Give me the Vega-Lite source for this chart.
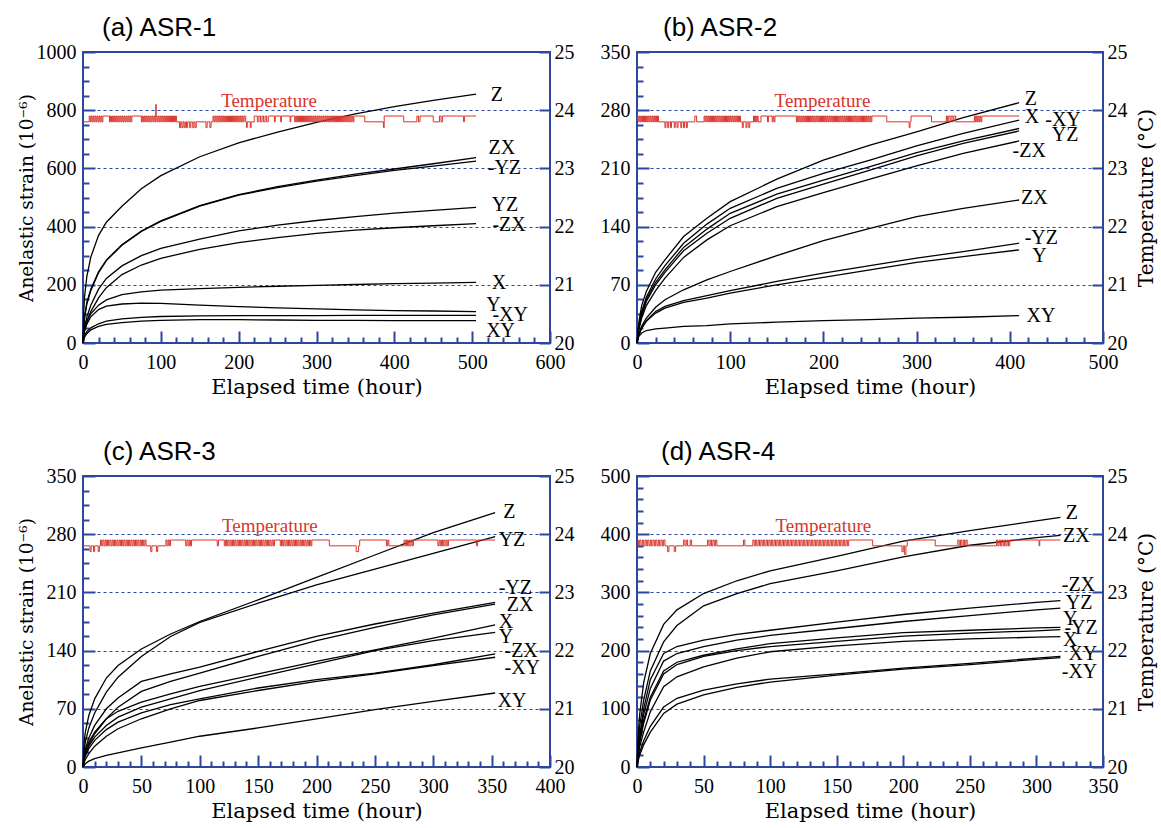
{
"$schema": "https://vega.github.io/schema/vega-lite/v6.json",
"background": "white",
"padding": {"left": 16, "top": 14, "right": 2, "bottom": 2},
"bounds": "flush",
"columns": 2,
"spacing": {"row": 133, "column": 87},
"config": {
  "view": {"stroke": "#2D469E", "strokeWidth": 2},
  "axis": {"domain": false, "grid": false, "tickColor": "#2D469E", "tickWidth": 2, "labelFont": "Liberation Serif", "labelFontSize": 20, "labelColor": "black", "titleFont": "DejaVu Serif", "titleFontSize": 20, "titleFontWeight": "normal", "titleColor": "black", "labelOverlap": false, "labelFlush": false, "labelBound": false}
},
"datasets": {
"curves": [
{"p":"a","s":"Z","t":0,"v":0},{"p":"a","s":"Z","t":1,"v":110},{"p":"a","s":"Z","t":2,"v":160},{"p":"a","s":"Z","t":5,"v":230},{"p":"a","s":"Z","t":10,"v":295},{"p":"a","s":"Z","t":20,"v":370},{"p":"a","s":"Z","t":30,"v":415},{"p":"a","s":"Z","t":50,"v":470},{"p":"a","s":"Z","t":75,"v":530},{"p":"a","s":"Z","t":100,"v":575},{"p":"a","s":"Z","t":150,"v":640},{"p":"a","s":"Z","t":200,"v":688},{"p":"a","s":"Z","t":250,"v":725},{"p":"a","s":"Z","t":300,"v":758},{"p":"a","s":"Z","t":350,"v":787},{"p":"a","s":"Z","t":400,"v":812},{"p":"a","s":"Z","t":450,"v":834},{"p":"a","s":"Z","t":505,"v":855},
{"p":"a","s":"ZX","t":0,"v":0},{"p":"a","s":"ZX","t":1,"v":60},{"p":"a","s":"ZX","t":2,"v":90},{"p":"a","s":"ZX","t":5,"v":140},{"p":"a","s":"ZX","t":10,"v":185},{"p":"a","s":"ZX","t":20,"v":245},{"p":"a","s":"ZX","t":30,"v":285},{"p":"a","s":"ZX","t":50,"v":338},{"p":"a","s":"ZX","t":75,"v":385},{"p":"a","s":"ZX","t":100,"v":420},{"p":"a","s":"ZX","t":150,"v":472},{"p":"a","s":"ZX","t":200,"v":510},{"p":"a","s":"ZX","t":250,"v":537},{"p":"a","s":"ZX","t":300,"v":560},{"p":"a","s":"ZX","t":350,"v":580},{"p":"a","s":"ZX","t":400,"v":598},{"p":"a","s":"ZX","t":450,"v":616},{"p":"a","s":"ZX","t":505,"v":637},
{"p":"a","s":"-YZ","t":0,"v":0},{"p":"a","s":"-YZ","t":1,"v":55},{"p":"a","s":"-YZ","t":2,"v":85},{"p":"a","s":"-YZ","t":5,"v":135},{"p":"a","s":"-YZ","t":10,"v":180},{"p":"a","s":"-YZ","t":20,"v":242},{"p":"a","s":"-YZ","t":30,"v":283},{"p":"a","s":"-YZ","t":50,"v":336},{"p":"a","s":"-YZ","t":75,"v":383},{"p":"a","s":"-YZ","t":100,"v":418},{"p":"a","s":"-YZ","t":150,"v":470},{"p":"a","s":"-YZ","t":200,"v":508},{"p":"a","s":"-YZ","t":250,"v":534},{"p":"a","s":"-YZ","t":300,"v":556},{"p":"a","s":"-YZ","t":350,"v":575},{"p":"a","s":"-YZ","t":400,"v":593},{"p":"a","s":"-YZ","t":450,"v":608},{"p":"a","s":"-YZ","t":505,"v":625},
{"p":"a","s":"YZ","t":0,"v":0},{"p":"a","s":"YZ","t":1,"v":35},{"p":"a","s":"YZ","t":2,"v":55},{"p":"a","s":"YZ","t":5,"v":90},{"p":"a","s":"YZ","t":10,"v":130},{"p":"a","s":"YZ","t":20,"v":185},{"p":"a","s":"YZ","t":30,"v":222},{"p":"a","s":"YZ","t":50,"v":265},{"p":"a","s":"YZ","t":75,"v":300},{"p":"a","s":"YZ","t":100,"v":325},{"p":"a","s":"YZ","t":150,"v":357},{"p":"a","s":"YZ","t":200,"v":385},{"p":"a","s":"YZ","t":250,"v":405},{"p":"a","s":"YZ","t":300,"v":421},{"p":"a","s":"YZ","t":350,"v":434},{"p":"a","s":"YZ","t":400,"v":446},{"p":"a","s":"YZ","t":450,"v":456},{"p":"a","s":"YZ","t":505,"v":466},
{"p":"a","s":"-ZX","t":0,"v":0},{"p":"a","s":"-ZX","t":1,"v":30},{"p":"a","s":"-ZX","t":2,"v":45},{"p":"a","s":"-ZX","t":5,"v":75},{"p":"a","s":"-ZX","t":10,"v":108},{"p":"a","s":"-ZX","t":20,"v":155},{"p":"a","s":"-ZX","t":30,"v":190},{"p":"a","s":"-ZX","t":50,"v":235},{"p":"a","s":"-ZX","t":75,"v":268},{"p":"a","s":"-ZX","t":100,"v":291},{"p":"a","s":"-ZX","t":150,"v":322},{"p":"a","s":"-ZX","t":200,"v":345},{"p":"a","s":"-ZX","t":250,"v":362},{"p":"a","s":"-ZX","t":300,"v":377},{"p":"a","s":"-ZX","t":350,"v":388},{"p":"a","s":"-ZX","t":400,"v":396},{"p":"a","s":"-ZX","t":450,"v":403},{"p":"a","s":"-ZX","t":505,"v":410},
{"p":"a","s":"X","t":0,"v":0},{"p":"a","s":"X","t":1,"v":30},{"p":"a","s":"X","t":2,"v":50},{"p":"a","s":"X","t":5,"v":75},{"p":"a","s":"X","t":10,"v":100},{"p":"a","s":"X","t":20,"v":130},{"p":"a","s":"X","t":30,"v":148},{"p":"a","s":"X","t":50,"v":166},{"p":"a","s":"X","t":75,"v":176},{"p":"a","s":"X","t":100,"v":182},{"p":"a","s":"X","t":150,"v":187},{"p":"a","s":"X","t":200,"v":191},{"p":"a","s":"X","t":250,"v":195},{"p":"a","s":"X","t":300,"v":198},{"p":"a","s":"X","t":350,"v":201},{"p":"a","s":"X","t":400,"v":204},{"p":"a","s":"X","t":450,"v":206},{"p":"a","s":"X","t":505,"v":208},
{"p":"a","s":"Y","t":0,"v":0},{"p":"a","s":"Y","t":1,"v":25},{"p":"a","s":"Y","t":2,"v":40},{"p":"a","s":"Y","t":5,"v":65},{"p":"a","s":"Y","t":10,"v":90},{"p":"a","s":"Y","t":20,"v":115},{"p":"a","s":"Y","t":30,"v":127},{"p":"a","s":"Y","t":50,"v":134},{"p":"a","s":"Y","t":75,"v":137},{"p":"a","s":"Y","t":100,"v":136},{"p":"a","s":"Y","t":150,"v":130},{"p":"a","s":"Y","t":200,"v":125},{"p":"a","s":"Y","t":250,"v":121},{"p":"a","s":"Y","t":300,"v":117},{"p":"a","s":"Y","t":350,"v":114},{"p":"a","s":"Y","t":400,"v":111},{"p":"a","s":"Y","t":450,"v":110},{"p":"a","s":"Y","t":505,"v":108},
{"p":"a","s":"-XY","t":0,"v":0},{"p":"a","s":"-XY","t":1,"v":15},{"p":"a","s":"-XY","t":2,"v":25},{"p":"a","s":"-XY","t":5,"v":40},{"p":"a","s":"-XY","t":10,"v":52},{"p":"a","s":"-XY","t":20,"v":66},{"p":"a","s":"-XY","t":30,"v":75},{"p":"a","s":"-XY","t":50,"v":83},{"p":"a","s":"-XY","t":75,"v":88},{"p":"a","s":"-XY","t":100,"v":91},{"p":"a","s":"-XY","t":150,"v":93},{"p":"a","s":"-XY","t":200,"v":94},{"p":"a","s":"-XY","t":250,"v":94},{"p":"a","s":"-XY","t":300,"v":94},{"p":"a","s":"-XY","t":350,"v":95},{"p":"a","s":"-XY","t":400,"v":95},{"p":"a","s":"-XY","t":450,"v":95},{"p":"a","s":"-XY","t":505,"v":95},
{"p":"a","s":"XY","t":0,"v":0},{"p":"a","s":"XY","t":1,"v":12},{"p":"a","s":"XY","t":2,"v":20},{"p":"a","s":"XY","t":5,"v":33},{"p":"a","s":"XY","t":10,"v":45},{"p":"a","s":"XY","t":20,"v":57},{"p":"a","s":"XY","t":30,"v":64},{"p":"a","s":"XY","t":50,"v":70},{"p":"a","s":"XY","t":75,"v":75},{"p":"a","s":"XY","t":100,"v":78},{"p":"a","s":"XY","t":150,"v":80},{"p":"a","s":"XY","t":200,"v":80},{"p":"a","s":"XY","t":250,"v":79},{"p":"a","s":"XY","t":300,"v":78},{"p":"a","s":"XY","t":350,"v":78},{"p":"a","s":"XY","t":400,"v":77},{"p":"a","s":"XY","t":450,"v":77},{"p":"a","s":"XY","t":505,"v":77},
{"p":"b","s":"Z","t":0,"v":0},{"p":"b","s":"Z","t":1,"v":15},{"p":"b","s":"Z","t":2,"v":25},{"p":"b","s":"Z","t":5,"v":45},{"p":"b","s":"Z","t":10,"v":62},{"p":"b","s":"Z","t":20,"v":85},{"p":"b","s":"Z","t":30,"v":100},{"p":"b","s":"Z","t":50,"v":128},{"p":"b","s":"Z","t":75,"v":150},{"p":"b","s":"Z","t":100,"v":170},{"p":"b","s":"Z","t":150,"v":197},{"p":"b","s":"Z","t":200,"v":220},{"p":"b","s":"Z","t":250,"v":238},{"p":"b","s":"Z","t":300,"v":254},{"p":"b","s":"Z","t":350,"v":271},{"p":"b","s":"Z","t":410,"v":289},
{"p":"b","s":"X","t":0,"v":0},{"p":"b","s":"X","t":1,"v":12},{"p":"b","s":"X","t":2,"v":20},{"p":"b","s":"X","t":5,"v":38},{"p":"b","s":"X","t":10,"v":55},{"p":"b","s":"X","t":20,"v":77},{"p":"b","s":"X","t":30,"v":93},{"p":"b","s":"X","t":50,"v":120},{"p":"b","s":"X","t":75,"v":143},{"p":"b","s":"X","t":100,"v":162},{"p":"b","s":"X","t":150,"v":186},{"p":"b","s":"X","t":200,"v":204},{"p":"b","s":"X","t":250,"v":220},{"p":"b","s":"X","t":300,"v":237},{"p":"b","s":"X","t":350,"v":252},{"p":"b","s":"X","t":410,"v":268},
{"p":"b","s":"-XY","t":0,"v":0},{"p":"b","s":"-XY","t":1,"v":11},{"p":"b","s":"-XY","t":2,"v":19},{"p":"b","s":"-XY","t":5,"v":35},{"p":"b","s":"-XY","t":10,"v":52},{"p":"b","s":"-XY","t":20,"v":73},{"p":"b","s":"-XY","t":30,"v":88},{"p":"b","s":"-XY","t":50,"v":115},{"p":"b","s":"-XY","t":75,"v":137},{"p":"b","s":"-XY","t":100,"v":156},{"p":"b","s":"-XY","t":150,"v":179},{"p":"b","s":"-XY","t":200,"v":196},{"p":"b","s":"-XY","t":250,"v":212},{"p":"b","s":"-XY","t":300,"v":229},{"p":"b","s":"-XY","t":350,"v":243},{"p":"b","s":"-XY","t":410,"v":258},
{"p":"b","s":"YZ","t":0,"v":0},{"p":"b","s":"YZ","t":1,"v":10},{"p":"b","s":"YZ","t":2,"v":18},{"p":"b","s":"YZ","t":5,"v":33},{"p":"b","s":"YZ","t":10,"v":50},{"p":"b","s":"YZ","t":20,"v":70},{"p":"b","s":"YZ","t":30,"v":85},{"p":"b","s":"YZ","t":50,"v":111},{"p":"b","s":"YZ","t":75,"v":132},{"p":"b","s":"YZ","t":100,"v":150},{"p":"b","s":"YZ","t":150,"v":174},{"p":"b","s":"YZ","t":200,"v":191},{"p":"b","s":"YZ","t":250,"v":208},{"p":"b","s":"YZ","t":300,"v":225},{"p":"b","s":"YZ","t":350,"v":240},{"p":"b","s":"YZ","t":410,"v":255},
{"p":"b","s":"-ZX","t":0,"v":0},{"p":"b","s":"-ZX","t":1,"v":9},{"p":"b","s":"-ZX","t":2,"v":16},{"p":"b","s":"-ZX","t":5,"v":30},{"p":"b","s":"-ZX","t":10,"v":45},{"p":"b","s":"-ZX","t":20,"v":63},{"p":"b","s":"-ZX","t":30,"v":78},{"p":"b","s":"-ZX","t":50,"v":103},{"p":"b","s":"-ZX","t":75,"v":124},{"p":"b","s":"-ZX","t":100,"v":141},{"p":"b","s":"-ZX","t":150,"v":164},{"p":"b","s":"-ZX","t":200,"v":181},{"p":"b","s":"-ZX","t":250,"v":197},{"p":"b","s":"-ZX","t":300,"v":213},{"p":"b","s":"-ZX","t":350,"v":228},{"p":"b","s":"-ZX","t":410,"v":243},
{"p":"b","s":"ZX","t":0,"v":0},{"p":"b","s":"ZX","t":1,"v":6},{"p":"b","s":"ZX","t":2,"v":10},{"p":"b","s":"ZX","t":5,"v":20},{"p":"b","s":"ZX","t":10,"v":30},{"p":"b","s":"ZX","t":20,"v":43},{"p":"b","s":"ZX","t":30,"v":52},{"p":"b","s":"ZX","t":50,"v":64},{"p":"b","s":"ZX","t":75,"v":76},{"p":"b","s":"ZX","t":100,"v":86},{"p":"b","s":"ZX","t":150,"v":105},{"p":"b","s":"ZX","t":200,"v":123},{"p":"b","s":"ZX","t":250,"v":138},{"p":"b","s":"ZX","t":300,"v":152},{"p":"b","s":"ZX","t":350,"v":162},{"p":"b","s":"ZX","t":410,"v":172},
{"p":"b","s":"-YZ","t":0,"v":0},{"p":"b","s":"-YZ","t":1,"v":6},{"p":"b","s":"-YZ","t":2,"v":10},{"p":"b","s":"-YZ","t":5,"v":18},{"p":"b","s":"-YZ","t":10,"v":27},{"p":"b","s":"-YZ","t":20,"v":38},{"p":"b","s":"-YZ","t":30,"v":44},{"p":"b","s":"-YZ","t":50,"v":51},{"p":"b","s":"-YZ","t":75,"v":57},{"p":"b","s":"-YZ","t":100,"v":63},{"p":"b","s":"-YZ","t":150,"v":74},{"p":"b","s":"-YZ","t":200,"v":84},{"p":"b","s":"-YZ","t":250,"v":93},{"p":"b","s":"-YZ","t":300,"v":102},{"p":"b","s":"-YZ","t":350,"v":110},{"p":"b","s":"-YZ","t":410,"v":120},
{"p":"b","s":"Y","t":0,"v":0},{"p":"b","s":"Y","t":1,"v":6},{"p":"b","s":"Y","t":2,"v":10},{"p":"b","s":"Y","t":5,"v":18},{"p":"b","s":"Y","t":10,"v":26},{"p":"b","s":"Y","t":20,"v":36},{"p":"b","s":"Y","t":30,"v":42},{"p":"b","s":"Y","t":50,"v":49},{"p":"b","s":"Y","t":75,"v":54},{"p":"b","s":"Y","t":100,"v":60},{"p":"b","s":"Y","t":150,"v":70},{"p":"b","s":"Y","t":200,"v":79},{"p":"b","s":"Y","t":250,"v":88},{"p":"b","s":"Y","t":300,"v":97},{"p":"b","s":"Y","t":350,"v":104},{"p":"b","s":"Y","t":410,"v":112},
{"p":"b","s":"XY","t":0,"v":0},{"p":"b","s":"XY","t":1,"v":5},{"p":"b","s":"XY","t":2,"v":8},{"p":"b","s":"XY","t":5,"v":12},{"p":"b","s":"XY","t":10,"v":15},{"p":"b","s":"XY","t":20,"v":17},{"p":"b","s":"XY","t":30,"v":18},{"p":"b","s":"XY","t":50,"v":20},{"p":"b","s":"XY","t":75,"v":21},{"p":"b","s":"XY","t":100,"v":23},{"p":"b","s":"XY","t":150,"v":25},{"p":"b","s":"XY","t":200,"v":27},{"p":"b","s":"XY","t":250,"v":28},{"p":"b","s":"XY","t":300,"v":30},{"p":"b","s":"XY","t":350,"v":31},{"p":"b","s":"XY","t":410,"v":33},
{"p":"c","s":"Z","t":0,"v":0},{"p":"c","s":"Z","t":1,"v":30},{"p":"c","s":"Z","t":2,"v":42},{"p":"c","s":"Z","t":5,"v":62},{"p":"c","s":"Z","t":10,"v":82},{"p":"c","s":"Z","t":20,"v":107},{"p":"c","s":"Z","t":30,"v":122},{"p":"c","s":"Z","t":50,"v":142},{"p":"c","s":"Z","t":75,"v":160},{"p":"c","s":"Z","t":100,"v":175},{"p":"c","s":"Z","t":150,"v":201},{"p":"c","s":"Z","t":200,"v":228},{"p":"c","s":"Z","t":250,"v":255},{"p":"c","s":"Z","t":300,"v":282},{"p":"c","s":"Z","t":353,"v":306},
{"p":"c","s":"YZ","t":0,"v":0},{"p":"c","s":"YZ","t":1,"v":20},{"p":"c","s":"YZ","t":2,"v":30},{"p":"c","s":"YZ","t":5,"v":47},{"p":"c","s":"YZ","t":10,"v":65},{"p":"c","s":"YZ","t":20,"v":90},{"p":"c","s":"YZ","t":30,"v":108},{"p":"c","s":"YZ","t":50,"v":133},{"p":"c","s":"YZ","t":75,"v":157},{"p":"c","s":"YZ","t":100,"v":174},{"p":"c","s":"YZ","t":150,"v":197},{"p":"c","s":"YZ","t":200,"v":219},{"p":"c","s":"YZ","t":250,"v":238},{"p":"c","s":"YZ","t":300,"v":257},{"p":"c","s":"YZ","t":353,"v":277},
{"p":"c","s":"-YZ","t":0,"v":0},{"p":"c","s":"-YZ","t":1,"v":15},{"p":"c","s":"-YZ","t":2,"v":22},{"p":"c","s":"-YZ","t":5,"v":35},{"p":"c","s":"-YZ","t":10,"v":50},{"p":"c","s":"-YZ","t":20,"v":70},{"p":"c","s":"-YZ","t":30,"v":83},{"p":"c","s":"-YZ","t":50,"v":103},{"p":"c","s":"-YZ","t":75,"v":112},{"p":"c","s":"-YZ","t":100,"v":120},{"p":"c","s":"-YZ","t":150,"v":139},{"p":"c","s":"-YZ","t":200,"v":157},{"p":"c","s":"-YZ","t":250,"v":172},{"p":"c","s":"-YZ","t":300,"v":185},{"p":"c","s":"-YZ","t":353,"v":198},
{"p":"c","s":"ZX","t":0,"v":0},{"p":"c","s":"ZX","t":1,"v":10},{"p":"c","s":"ZX","t":2,"v":16},{"p":"c","s":"ZX","t":5,"v":27},{"p":"c","s":"ZX","t":10,"v":40},{"p":"c","s":"ZX","t":20,"v":58},{"p":"c","s":"ZX","t":30,"v":72},{"p":"c","s":"ZX","t":50,"v":91},{"p":"c","s":"ZX","t":75,"v":103},{"p":"c","s":"ZX","t":100,"v":113},{"p":"c","s":"ZX","t":150,"v":133},{"p":"c","s":"ZX","t":200,"v":152},{"p":"c","s":"ZX","t":250,"v":168},{"p":"c","s":"ZX","t":300,"v":183},{"p":"c","s":"ZX","t":353,"v":196},
{"p":"c","s":"X","t":0,"v":0},{"p":"c","s":"X","t":1,"v":12},{"p":"c","s":"X","t":2,"v":18},{"p":"c","s":"X","t":5,"v":30},{"p":"c","s":"X","t":10,"v":42},{"p":"c","s":"X","t":20,"v":58},{"p":"c","s":"X","t":30,"v":67},{"p":"c","s":"X","t":50,"v":78},{"p":"c","s":"X","t":75,"v":88},{"p":"c","s":"X","t":100,"v":97},{"p":"c","s":"X","t":150,"v":112},{"p":"c","s":"X","t":200,"v":127},{"p":"c","s":"X","t":250,"v":141},{"p":"c","s":"X","t":300,"v":155},{"p":"c","s":"X","t":353,"v":171},
{"p":"c","s":"Y","t":0,"v":0},{"p":"c","s":"Y","t":1,"v":10},{"p":"c","s":"Y","t":2,"v":15},{"p":"c","s":"Y","t":5,"v":25},{"p":"c","s":"Y","t":10,"v":36},{"p":"c","s":"Y","t":20,"v":50},{"p":"c","s":"Y","t":30,"v":60},{"p":"c","s":"Y","t":50,"v":72},{"p":"c","s":"Y","t":75,"v":82},{"p":"c","s":"Y","t":100,"v":92},{"p":"c","s":"Y","t":150,"v":108},{"p":"c","s":"Y","t":200,"v":124},{"p":"c","s":"Y","t":250,"v":140},{"p":"c","s":"Y","t":300,"v":152},{"p":"c","s":"Y","t":353,"v":162},
{"p":"c","s":"-ZX","t":0,"v":0},{"p":"c","s":"-ZX","t":1,"v":8},{"p":"c","s":"-ZX","t":2,"v":13},{"p":"c","s":"-ZX","t":5,"v":22},{"p":"c","s":"-ZX","t":10,"v":32},{"p":"c","s":"-ZX","t":20,"v":45},{"p":"c","s":"-ZX","t":30,"v":54},{"p":"c","s":"-ZX","t":50,"v":65},{"p":"c","s":"-ZX","t":75,"v":75},{"p":"c","s":"-ZX","t":100,"v":82},{"p":"c","s":"-ZX","t":150,"v":95},{"p":"c","s":"-ZX","t":200,"v":105},{"p":"c","s":"-ZX","t":250,"v":113},{"p":"c","s":"-ZX","t":300,"v":123},{"p":"c","s":"-ZX","t":353,"v":136},
{"p":"c","s":"-XY","t":0,"v":0},{"p":"c","s":"-XY","t":1,"v":5},{"p":"c","s":"-XY","t":2,"v":9},{"p":"c","s":"-XY","t":5,"v":16},{"p":"c","s":"-XY","t":10,"v":25},{"p":"c","s":"-XY","t":20,"v":37},{"p":"c","s":"-XY","t":30,"v":46},{"p":"c","s":"-XY","t":50,"v":58},{"p":"c","s":"-XY","t":75,"v":70},{"p":"c","s":"-XY","t":100,"v":80},{"p":"c","s":"-XY","t":150,"v":92},{"p":"c","s":"-XY","t":200,"v":103},{"p":"c","s":"-XY","t":250,"v":112},{"p":"c","s":"-XY","t":300,"v":122},{"p":"c","s":"-XY","t":353,"v":132},
{"p":"c","s":"XY","t":0,"v":0},{"p":"c","s":"XY","t":1,"v":2},{"p":"c","s":"XY","t":2,"v":4},{"p":"c","s":"XY","t":5,"v":7},{"p":"c","s":"XY","t":10,"v":10},{"p":"c","s":"XY","t":20,"v":14},{"p":"c","s":"XY","t":30,"v":17},{"p":"c","s":"XY","t":50,"v":23},{"p":"c","s":"XY","t":75,"v":30},{"p":"c","s":"XY","t":100,"v":37},{"p":"c","s":"XY","t":150,"v":47},{"p":"c","s":"XY","t":200,"v":58},{"p":"c","s":"XY","t":250,"v":69},{"p":"c","s":"XY","t":300,"v":79},{"p":"c","s":"XY","t":353,"v":89},
{"p":"d","s":"Z","t":0,"v":0},{"p":"d","s":"Z","t":1,"v":60},{"p":"d","s":"Z","t":2,"v":90},{"p":"d","s":"Z","t":5,"v":145},{"p":"d","s":"Z","t":10,"v":195},{"p":"d","s":"Z","t":20,"v":245},{"p":"d","s":"Z","t":30,"v":270},{"p":"d","s":"Z","t":50,"v":298},{"p":"d","s":"Z","t":75,"v":320},{"p":"d","s":"Z","t":100,"v":337},{"p":"d","s":"Z","t":150,"v":362},{"p":"d","s":"Z","t":200,"v":388},{"p":"d","s":"Z","t":250,"v":406},{"p":"d","s":"Z","t":300,"v":423},{"p":"d","s":"Z","t":318,"v":429},
{"p":"d","s":"ZX","t":0,"v":0},{"p":"d","s":"ZX","t":1,"v":45},{"p":"d","s":"ZX","t":2,"v":70},{"p":"d","s":"ZX","t":5,"v":115},{"p":"d","s":"ZX","t":10,"v":165},{"p":"d","s":"ZX","t":20,"v":215},{"p":"d","s":"ZX","t":30,"v":243},{"p":"d","s":"ZX","t":50,"v":277},{"p":"d","s":"ZX","t":75,"v":298},{"p":"d","s":"ZX","t":100,"v":315},{"p":"d","s":"ZX","t":150,"v":337},{"p":"d","s":"ZX","t":200,"v":361},{"p":"d","s":"ZX","t":250,"v":381},{"p":"d","s":"ZX","t":300,"v":394},{"p":"d","s":"ZX","t":318,"v":398},
{"p":"d","s":"-ZX","t":0,"v":0},{"p":"d","s":"-ZX","t":1,"v":35},{"p":"d","s":"-ZX","t":2,"v":55},{"p":"d","s":"-ZX","t":5,"v":100},{"p":"d","s":"-ZX","t":10,"v":150},{"p":"d","s":"-ZX","t":20,"v":195},{"p":"d","s":"-ZX","t":30,"v":207},{"p":"d","s":"-ZX","t":50,"v":218},{"p":"d","s":"-ZX","t":75,"v":228},{"p":"d","s":"-ZX","t":100,"v":235},{"p":"d","s":"-ZX","t":150,"v":249},{"p":"d","s":"-ZX","t":200,"v":262},{"p":"d","s":"-ZX","t":250,"v":273},{"p":"d","s":"-ZX","t":300,"v":283},{"p":"d","s":"-ZX","t":318,"v":286},
{"p":"d","s":"YZ","t":0,"v":0},{"p":"d","s":"YZ","t":1,"v":30},{"p":"d","s":"YZ","t":2,"v":50},{"p":"d","s":"YZ","t":5,"v":90},{"p":"d","s":"YZ","t":10,"v":135},{"p":"d","s":"YZ","t":20,"v":182},{"p":"d","s":"YZ","t":30,"v":195},{"p":"d","s":"YZ","t":50,"v":207},{"p":"d","s":"YZ","t":75,"v":218},{"p":"d","s":"YZ","t":100,"v":226},{"p":"d","s":"YZ","t":150,"v":238},{"p":"d","s":"YZ","t":200,"v":250},{"p":"d","s":"YZ","t":250,"v":260},{"p":"d","s":"YZ","t":300,"v":270},{"p":"d","s":"YZ","t":318,"v":273},
{"p":"d","s":"Y","t":0,"v":0},{"p":"d","s":"Y","t":1,"v":25},{"p":"d","s":"Y","t":2,"v":45},{"p":"d","s":"Y","t":5,"v":80},{"p":"d","s":"Y","t":10,"v":120},{"p":"d","s":"Y","t":20,"v":165},{"p":"d","s":"Y","t":30,"v":180},{"p":"d","s":"Y","t":50,"v":192},{"p":"d","s":"Y","t":75,"v":203},{"p":"d","s":"Y","t":100,"v":212},{"p":"d","s":"Y","t":150,"v":222},{"p":"d","s":"Y","t":200,"v":231},{"p":"d","s":"Y","t":250,"v":235},{"p":"d","s":"Y","t":300,"v":239},{"p":"d","s":"Y","t":318,"v":240},
{"p":"d","s":"-YZ","t":0,"v":0},{"p":"d","s":"-YZ","t":1,"v":25},{"p":"d","s":"-YZ","t":2,"v":42},{"p":"d","s":"-YZ","t":5,"v":75},{"p":"d","s":"-YZ","t":10,"v":115},{"p":"d","s":"-YZ","t":20,"v":160},{"p":"d","s":"-YZ","t":30,"v":176},{"p":"d","s":"-YZ","t":50,"v":190},{"p":"d","s":"-YZ","t":75,"v":200},{"p":"d","s":"-YZ","t":100,"v":207},{"p":"d","s":"-YZ","t":150,"v":216},{"p":"d","s":"-YZ","t":200,"v":225},{"p":"d","s":"-YZ","t":250,"v":230},{"p":"d","s":"-YZ","t":300,"v":234},{"p":"d","s":"-YZ","t":318,"v":236},
{"p":"d","s":"X","t":0,"v":0},{"p":"d","s":"X","t":1,"v":20},{"p":"d","s":"X","t":2,"v":35},{"p":"d","s":"X","t":5,"v":60},{"p":"d","s":"X","t":10,"v":95},{"p":"d","s":"X","t":20,"v":138},{"p":"d","s":"X","t":30,"v":155},{"p":"d","s":"X","t":50,"v":172},{"p":"d","s":"X","t":75,"v":187},{"p":"d","s":"X","t":100,"v":198},{"p":"d","s":"X","t":150,"v":208},{"p":"d","s":"X","t":200,"v":216},{"p":"d","s":"X","t":250,"v":220},{"p":"d","s":"X","t":300,"v":223},{"p":"d","s":"X","t":318,"v":224},
{"p":"d","s":"XY","t":0,"v":0},{"p":"d","s":"XY","t":1,"v":15},{"p":"d","s":"XY","t":2,"v":25},{"p":"d","s":"XY","t":5,"v":45},{"p":"d","s":"XY","t":10,"v":70},{"p":"d","s":"XY","t":20,"v":103},{"p":"d","s":"XY","t":30,"v":118},{"p":"d","s":"XY","t":50,"v":132},{"p":"d","s":"XY","t":75,"v":143},{"p":"d","s":"XY","t":100,"v":151},{"p":"d","s":"XY","t":150,"v":160},{"p":"d","s":"XY","t":200,"v":170},{"p":"d","s":"XY","t":250,"v":178},{"p":"d","s":"XY","t":300,"v":187},{"p":"d","s":"XY","t":318,"v":190},
{"p":"d","s":"-XY","t":0,"v":0},{"p":"d","s":"-XY","t":1,"v":12},{"p":"d","s":"-XY","t":2,"v":20},{"p":"d","s":"-XY","t":5,"v":38},{"p":"d","s":"-XY","t":10,"v":60},{"p":"d","s":"-XY","t":20,"v":92},{"p":"d","s":"-XY","t":30,"v":108},{"p":"d","s":"-XY","t":50,"v":124},{"p":"d","s":"-XY","t":75,"v":137},{"p":"d","s":"-XY","t":100,"v":146},{"p":"d","s":"-XY","t":150,"v":158},{"p":"d","s":"-XY","t":200,"v":168},{"p":"d","s":"-XY","t":250,"v":176},{"p":"d","s":"-XY","t":300,"v":185},{"p":"d","s":"-XY","t":318,"v":188}
],
"labels": [
{"p":"a","s":"Z","t":524,"v":853},{"p":"a","s":"ZX","t":521,"v":670},{"p":"a","s":"-YZ","t":520,"v":601},{"p":"a","s":"YZ","t":525,"v":475},{"p":"a","s":"-ZX","t":526,"v":406},{"p":"a","s":"X","t":525,"v":206},{"p":"a","s":"Y","t":518,"v":132},{"p":"a","s":"-XY","t":526,"v":97},{"p":"a","s":"XY","t":518,"v":40},
{"p":"b","s":"Z","t":416,"v":294},{"p":"b","s":"X","t":416,"v":272},{"p":"b","s":"-XY","t":438,"v":268},{"p":"b","s":"YZ","t":445,"v":250},{"p":"b","s":"-ZX","t":403,"v":231},{"p":"b","s":"ZX","t":412,"v":174},{"p":"b","s":"-YZ","t":416,"v":126},{"p":"b","s":"Y","t":424,"v":105},{"p":"b","s":"XY","t":418,"v":32},
{"p":"c","s":"Z","t":360,"v":307},{"p":"c","s":"YZ","t":356,"v":273},{"p":"c","s":"-YZ","t":356,"v":215},{"p":"c","s":"ZX","t":363,"v":195},{"p":"c","s":"X","t":356,"v":175},{"p":"c","s":"Y","t":356,"v":156},{"p":"c","s":"-ZX","t":361,"v":140},{"p":"c","s":"-XY","t":361,"v":119},{"p":"c","s":"XY","t":355,"v":79},
{"p":"d","s":"Z","t":322,"v":437},{"p":"d","s":"ZX","t":320,"v":397},{"p":"d","s":"-ZX","t":319,"v":313},{"p":"d","s":"YZ","t":322,"v":281},{"p":"d","s":"Y","t":320,"v":255},{"p":"d","s":"-YZ","t":321,"v":239},{"p":"d","s":"X","t":320,"v":219},{"p":"d","s":"XY","t":324,"v":195},{"p":"d","s":"-XY","t":319,"v":164}
],
"templabel": [
{"p":"a","t":239,"T":24.15},{"p":"b","t":199,"T":24.16},{"p":"c","t":160,"T":24.14},{"p":"d","t":140,"T":24.14}
],
"temp": [
{"p":"a","t":0,"T":23.8},{"p":"a","t":8,"T":23.9},{"p":"a","t":9.25,"T":23.8},{"p":"a","t":10.5,"T":23.9},{"p":"a","t":11.75,"T":23.8},{"p":"a","t":13,"T":23.9},{"p":"a","t":14.25,"T":23.8},{"p":"a","t":15.5,"T":23.9},{"p":"a","t":16.75,"T":23.8},{"p":"a","t":18,"T":23.9},{"p":"a","t":19.25,"T":23.8},{"p":"a","t":20.5,"T":23.9},{"p":"a","t":21.75,"T":23.8},{"p":"a","t":23,"T":23.9},{"p":"a","t":24.25,"T":23.8},{"p":"a","t":25.5,"T":23.9},
{"p":"a","t":34,"T":23.8},{"p":"a","t":35.25,"T":23.9},{"p":"a","t":36.5,"T":23.8},{"p":"a","t":37.75,"T":23.9},{"p":"a","t":39,"T":23.8},{"p":"a","t":40.25,"T":23.9},{"p":"a","t":41.5,"T":23.8},{"p":"a","t":42.75,"T":23.9},{"p":"a","t":44,"T":23.8},{"p":"a","t":45.25,"T":23.9},{"p":"a","t":46.5,"T":23.8},{"p":"a","t":47.75,"T":23.9},{"p":"a","t":49,"T":23.8},{"p":"a","t":50.25,"T":23.9},{"p":"a","t":51.5,"T":23.8},{"p":"a","t":52.75,"T":23.9},{"p":"a","t":54,"T":23.8},{"p":"a","t":55.25,"T":23.9},{"p":"a","t":56.5,"T":23.8},{"p":"a","t":57.75,"T":23.9},{"p":"a","t":59,"T":23.8},{"p":"a","t":60.25,"T":23.9},{"p":"a","t":61.5,"T":23.8},{"p":"a","t":62.75,"T":23.9},
{"p":"a","t":75,"T":23.8},{"p":"a","t":76.25,"T":23.9},{"p":"a","t":77.5,"T":23.8},{"p":"a","t":78.75,"T":23.9},{"p":"a","t":80,"T":23.8},{"p":"a","t":81.25,"T":23.9},{"p":"a","t":82.5,"T":23.8},{"p":"a","t":83.75,"T":23.9},{"p":"a","t":85,"T":23.8},{"p":"a","t":86.25,"T":23.9},{"p":"a","t":87.5,"T":23.8},{"p":"a","t":88.75,"T":23.9},{"p":"a","t":90,"T":23.8},{"p":"a","t":91.25,"T":23.9},{"p":"a","t":92.5,"T":23.8},{"p":"a","t":93.5,"T":24.1},{"p":"a","t":94,"T":23.9},{"p":"a","t":95,"T":23.8},{"p":"a","t":96.25,"T":23.9},{"p":"a","t":97.5,"T":23.8},{"p":"a","t":98.75,"T":23.9},{"p":"a","t":100,"T":23.8},{"p":"a","t":101.25,"T":23.9},{"p":"a","t":102.5,"T":23.8},{"p":"a","t":103.75,"T":23.9},{"p":"a","t":105,"T":23.8},{"p":"a","t":106.25,"T":23.9},{"p":"a","t":107.5,"T":23.8},{"p":"a","t":108.75,"T":23.9},{"p":"a","t":110,"T":23.8},{"p":"a","t":111.25,"T":23.9},{"p":"a","t":112.5,"T":23.8},{"p":"a","t":113.75,"T":23.9},{"p":"a","t":115,"T":23.8},{"p":"a","t":116.25,"T":23.9},{"p":"a","t":117.5,"T":23.8},{"p":"a","t":118.75,"T":23.9},{"p":"a","t":120,"T":23.8},
{"p":"a","t":124,"T":23.7},{"p":"a","t":125.5,"T":23.8},{"p":"a","t":127,"T":23.7},{"p":"a","t":128.5,"T":23.8},{"p":"a","t":130,"T":23.7},{"p":"a","t":131.5,"T":23.8},{"p":"a","t":133,"T":23.7},{"p":"a","t":134.5,"T":23.8},{"p":"a","t":137,"T":23.7},{"p":"a","t":138.5,"T":23.8},{"p":"a","t":141,"T":23.7},{"p":"a","t":142.5,"T":23.8},{"p":"a","t":144,"T":23.7},{"p":"a","t":145.5,"T":23.8},{"p":"a","t":158,"T":23.7},{"p":"a","t":159.5,"T":23.8},{"p":"a","t":163,"T":23.7},{"p":"a","t":164.5,"T":23.8},
{"p":"a","t":167,"T":23.9},{"p":"a","t":168.25,"T":23.8},{"p":"a","t":169.5,"T":23.9},{"p":"a","t":170.75,"T":23.8},{"p":"a","t":172,"T":23.9},{"p":"a","t":173.25,"T":23.8},{"p":"a","t":174.5,"T":23.9},{"p":"a","t":175.75,"T":23.8},{"p":"a","t":177,"T":23.9},{"p":"a","t":178.25,"T":23.8},{"p":"a","t":179.5,"T":23.9},{"p":"a","t":180.75,"T":23.8},{"p":"a","t":182,"T":23.9},{"p":"a","t":183.25,"T":23.8},{"p":"a","t":184.5,"T":23.9},{"p":"a","t":185.75,"T":23.8},{"p":"a","t":187,"T":23.9},{"p":"a","t":188.25,"T":23.8},{"p":"a","t":189.5,"T":23.9},{"p":"a","t":190.75,"T":23.8},{"p":"a","t":192,"T":23.9},{"p":"a","t":193.25,"T":23.8},{"p":"a","t":194.5,"T":23.9},{"p":"a","t":195.75,"T":23.8},{"p":"a","t":197,"T":23.9},{"p":"a","t":198.25,"T":23.8},{"p":"a","t":199.5,"T":23.9},{"p":"a","t":200.75,"T":23.8},{"p":"a","t":202,"T":23.9},{"p":"a","t":203.25,"T":23.8},{"p":"a","t":204.5,"T":23.9},{"p":"a","t":205.75,"T":23.8},{"p":"a","t":207,"T":23.9},{"p":"a","t":209,"T":23.8},
{"p":"a","t":210,"T":23.7},{"p":"a","t":211,"T":23.8},{"p":"a","t":215,"T":23.7},{"p":"a","t":216,"T":23.8},{"p":"a","t":220,"T":23.9},{"p":"a","t":224,"T":23.8},{"p":"a","t":226,"T":23.9},{"p":"a","t":228,"T":23.8},{"p":"a","t":230,"T":23.9},{"p":"a","t":232,"T":23.8},{"p":"a","t":234,"T":23.9},{"p":"a","t":236,"T":23.8},{"p":"a","t":238,"T":23.9},{"p":"a","t":246,"T":23.8},{"p":"a","t":247,"T":23.9},{"p":"a","t":254,"T":23.8},{"p":"a","t":255,"T":23.9},{"p":"a","t":266,"T":23.8},{"p":"a","t":267,"T":23.9},
{"p":"a","t":272,"T":23.8},{"p":"a","t":273.25,"T":23.9},{"p":"a","t":274.5,"T":23.8},{"p":"a","t":275.75,"T":23.9},{"p":"a","t":277,"T":23.8},{"p":"a","t":278.25,"T":23.9},{"p":"a","t":279.5,"T":23.8},{"p":"a","t":280.75,"T":23.9},{"p":"a","t":282,"T":23.8},{"p":"a","t":283.25,"T":23.9},{"p":"a","t":284.5,"T":23.8},{"p":"a","t":285.75,"T":23.9},{"p":"a","t":287,"T":23.8},{"p":"a","t":288.25,"T":23.9},{"p":"a","t":289.5,"T":23.8},{"p":"a","t":290.75,"T":23.9},{"p":"a","t":292,"T":23.8},{"p":"a","t":293.25,"T":23.9},{"p":"a","t":294.5,"T":23.8},{"p":"a","t":295.75,"T":23.9},{"p":"a","t":297,"T":23.8},{"p":"a","t":298.25,"T":23.9},{"p":"a","t":299.5,"T":23.8},{"p":"a","t":300.75,"T":23.9},{"p":"a","t":302,"T":23.8},{"p":"a","t":303.25,"T":23.9},{"p":"a","t":304.5,"T":23.8},{"p":"a","t":305.75,"T":23.9},{"p":"a","t":307,"T":23.8},{"p":"a","t":308.25,"T":23.9},{"p":"a","t":309.5,"T":23.8},{"p":"a","t":310.75,"T":23.9},{"p":"a","t":312,"T":23.8},{"p":"a","t":313.25,"T":23.9},{"p":"a","t":314.5,"T":23.8},{"p":"a","t":315.75,"T":23.9},{"p":"a","t":317,"T":23.8},{"p":"a","t":318.25,"T":23.9},{"p":"a","t":319.5,"T":23.8},{"p":"a","t":320.75,"T":23.9},{"p":"a","t":322,"T":23.8},{"p":"a","t":323.25,"T":23.9},{"p":"a","t":324.5,"T":23.8},{"p":"a","t":325.75,"T":23.9},{"p":"a","t":327,"T":23.8},{"p":"a","t":328.25,"T":23.9},{"p":"a","t":329.5,"T":23.8},{"p":"a","t":330.75,"T":23.9},{"p":"a","t":332,"T":23.8},{"p":"a","t":333.25,"T":23.9},{"p":"a","t":334.5,"T":23.8},{"p":"a","t":335.75,"T":23.9},{"p":"a","t":337,"T":23.8},{"p":"a","t":338.25,"T":23.9},{"p":"a","t":339.5,"T":23.8},{"p":"a","t":340.75,"T":23.9},{"p":"a","t":342,"T":23.8},{"p":"a","t":343.25,"T":23.9},{"p":"a","t":344.5,"T":23.8},{"p":"a","t":345.75,"T":23.9},{"p":"a","t":347,"T":23.8},{"p":"a","t":348,"T":23.9},
{"p":"a","t":362,"T":23.8},{"p":"a","t":386,"T":23.7},{"p":"a","t":387,"T":23.9},{"p":"a","t":412,"T":23.8},{"p":"a","t":429,"T":23.9},{"p":"a","t":431,"T":23.8},{"p":"a","t":433,"T":23.9},{"p":"a","t":450,"T":23.8},{"p":"a","t":458,"T":23.9},{"p":"a","t":460,"T":23.8},{"p":"a","t":462,"T":23.9},{"p":"a","t":489,"T":23.8},{"p":"a","t":490,"T":23.9},{"p":"a","t":505,"T":23.9},
{"p":"b","t":0,"T":23.9},{"p":"b","t":1,"T":23.8},{"p":"b","t":2,"T":23.9},{"p":"b","t":3,"T":23.8},{"p":"b","t":4,"T":23.9},{"p":"b","t":5,"T":23.8},{"p":"b","t":6,"T":23.9},{"p":"b","t":7,"T":23.8},{"p":"b","t":8,"T":23.9},{"p":"b","t":9,"T":23.8},{"p":"b","t":10,"T":23.9},{"p":"b","t":11,"T":23.8},{"p":"b","t":12,"T":23.9},{"p":"b","t":13,"T":23.8},{"p":"b","t":14,"T":23.9},{"p":"b","t":15,"T":23.8},{"p":"b","t":16,"T":23.9},{"p":"b","t":17,"T":23.8},{"p":"b","t":18,"T":23.9},{"p":"b","t":19,"T":23.8},{"p":"b","t":20,"T":23.9},{"p":"b","t":21,"T":23.8},{"p":"b","t":22,"T":23.9},{"p":"b","t":23,"T":23.8},
{"p":"b","t":30,"T":23.7},{"p":"b","t":31,"T":23.8},{"p":"b","t":33,"T":23.7},{"p":"b","t":34,"T":23.8},{"p":"b","t":36,"T":23.7},{"p":"b","t":37,"T":23.8},{"p":"b","t":40,"T":23.7},{"p":"b","t":41,"T":23.8},{"p":"b","t":43,"T":23.7},{"p":"b","t":44,"T":23.8},{"p":"b","t":47,"T":23.7},{"p":"b","t":48,"T":23.8},{"p":"b","t":50,"T":23.7},{"p":"b","t":51,"T":23.8},{"p":"b","t":53,"T":23.7},{"p":"b","t":54,"T":23.8},{"p":"b","t":62,"T":23.9},{"p":"b","t":64,"T":23.8},
{"p":"b","t":72,"T":23.9},{"p":"b","t":73,"T":23.8},{"p":"b","t":74,"T":23.9},{"p":"b","t":75,"T":23.8},{"p":"b","t":76,"T":23.9},{"p":"b","t":77,"T":23.8},{"p":"b","t":78,"T":23.9},{"p":"b","t":79,"T":23.8},{"p":"b","t":80,"T":23.9},{"p":"b","t":81,"T":23.8},{"p":"b","t":82,"T":23.9},{"p":"b","t":83,"T":23.8},{"p":"b","t":84,"T":23.9},{"p":"b","t":85,"T":23.8},{"p":"b","t":86,"T":23.9},{"p":"b","t":87,"T":23.8},{"p":"b","t":88,"T":23.9},{"p":"b","t":89,"T":23.8},{"p":"b","t":90,"T":23.9},{"p":"b","t":91,"T":23.8},{"p":"b","t":92,"T":23.9},{"p":"b","t":93,"T":23.8},{"p":"b","t":94,"T":23.9},{"p":"b","t":95,"T":23.8},{"p":"b","t":96,"T":23.9},{"p":"b","t":97,"T":23.8},{"p":"b","t":98,"T":23.9},{"p":"b","t":99,"T":23.8},{"p":"b","t":100,"T":23.9},{"p":"b","t":101,"T":23.8},{"p":"b","t":102,"T":23.9},{"p":"b","t":103,"T":23.8},{"p":"b","t":104,"T":23.9},{"p":"b","t":105,"T":23.8},{"p":"b","t":106,"T":23.9},{"p":"b","t":107,"T":23.8},{"p":"b","t":108,"T":23.9},{"p":"b","t":109,"T":23.8},{"p":"b","t":110,"T":23.9},{"p":"b","t":111,"T":23.8},
{"p":"b","t":113,"T":23.7},{"p":"b","t":114,"T":23.8},{"p":"b","t":117,"T":23.7},{"p":"b","t":118,"T":23.8},{"p":"b","t":120,"T":23.7},{"p":"b","t":121,"T":23.8},{"p":"b","t":125,"T":23.9},{"p":"b","t":126,"T":23.8},{"p":"b","t":127,"T":23.9},{"p":"b","t":128,"T":23.8},{"p":"b","t":129,"T":23.9},{"p":"b","t":130,"T":23.8},{"p":"b","t":133,"T":23.9},{"p":"b","t":140,"T":23.8},{"p":"b","t":141,"T":23.9},{"p":"b","t":145,"T":23.8},{"p":"b","t":146,"T":23.9},{"p":"b","t":147,"T":23.8},{"p":"b","t":148,"T":23.9},
{"p":"b","t":171,"T":23.8},{"p":"b","t":172,"T":23.9},{"p":"b","t":173,"T":23.8},{"p":"b","t":174,"T":23.9},{"p":"b","t":175,"T":23.8},{"p":"b","t":176,"T":23.9},{"p":"b","t":177,"T":23.8},{"p":"b","t":178,"T":23.9},{"p":"b","t":179,"T":23.8},{"p":"b","t":180,"T":23.9},{"p":"b","t":181,"T":23.8},{"p":"b","t":182,"T":23.9},{"p":"b","t":183,"T":23.8},{"p":"b","t":184,"T":23.9},{"p":"b","t":185,"T":23.8},{"p":"b","t":186,"T":23.9},{"p":"b","t":187,"T":23.8},{"p":"b","t":188,"T":23.9},{"p":"b","t":189,"T":23.8},{"p":"b","t":190,"T":23.9},{"p":"b","t":191,"T":23.8},{"p":"b","t":192,"T":23.9},{"p":"b","t":193,"T":23.8},{"p":"b","t":194,"T":23.9},{"p":"b","t":195,"T":23.8},{"p":"b","t":196,"T":23.9},{"p":"b","t":197,"T":23.8},{"p":"b","t":198,"T":23.9},{"p":"b","t":199,"T":23.8},{"p":"b","t":200,"T":23.9},{"p":"b","t":201,"T":23.8},{"p":"b","t":202,"T":23.9},{"p":"b","t":203,"T":23.8},{"p":"b","t":204,"T":23.9},{"p":"b","t":205,"T":23.8},{"p":"b","t":206,"T":23.9},{"p":"b","t":207,"T":23.8},{"p":"b","t":208,"T":23.9},{"p":"b","t":209,"T":23.8},{"p":"b","t":210,"T":23.9},{"p":"b","t":211,"T":23.8},{"p":"b","t":212,"T":23.9},{"p":"b","t":213,"T":23.8},{"p":"b","t":214,"T":23.9},{"p":"b","t":215,"T":23.8},{"p":"b","t":216,"T":23.9},{"p":"b","t":217,"T":23.8},{"p":"b","t":218,"T":23.9},{"p":"b","t":219,"T":23.8},{"p":"b","t":220,"T":23.9},{"p":"b","t":221,"T":23.8},{"p":"b","t":222,"T":23.9},{"p":"b","t":223,"T":23.8},{"p":"b","t":224,"T":23.9},{"p":"b","t":225,"T":23.8},{"p":"b","t":226,"T":23.9},{"p":"b","t":227,"T":23.8},{"p":"b","t":228,"T":23.9},{"p":"b","t":229,"T":23.8},{"p":"b","t":230,"T":23.9},{"p":"b","t":231,"T":23.8},{"p":"b","t":232,"T":23.9},{"p":"b","t":233,"T":23.8},{"p":"b","t":234,"T":23.9},{"p":"b","t":235,"T":23.8},{"p":"b","t":236,"T":23.9},{"p":"b","t":237,"T":23.8},{"p":"b","t":238,"T":23.9},{"p":"b","t":239,"T":23.8},{"p":"b","t":240,"T":23.9},{"p":"b","t":241,"T":23.8},{"p":"b","t":242,"T":23.9},{"p":"b","t":243,"T":23.8},{"p":"b","t":244,"T":23.9},{"p":"b","t":245,"T":23.8},{"p":"b","t":246,"T":23.9},{"p":"b","t":247,"T":23.8},{"p":"b","t":248,"T":23.9},{"p":"b","t":249,"T":23.8},{"p":"b","t":250,"T":23.9},{"p":"b","t":251,"T":23.8},{"p":"b","t":252,"T":23.9},
{"p":"b","t":268,"T":23.8},{"p":"b","t":292,"T":23.7},{"p":"b","t":293,"T":23.8},{"p":"b","t":294,"T":23.9},{"p":"b","t":316,"T":23.8},{"p":"b","t":332,"T":23.9},{"p":"b","t":333,"T":23.8},{"p":"b","t":334,"T":23.9},{"p":"b","t":336,"T":23.8},{"p":"b","t":337,"T":23.9},{"p":"b","t":339,"T":23.8},{"p":"b","t":340,"T":23.9},{"p":"b","t":342,"T":23.8},{"p":"b","t":362,"T":23.9},{"p":"b","t":363,"T":23.8},{"p":"b","t":364,"T":23.9},{"p":"b","t":365,"T":23.8},{"p":"b","t":366,"T":23.9},{"p":"b","t":367,"T":23.8},{"p":"b","t":368,"T":23.9},{"p":"b","t":369,"T":23.8},{"p":"b","t":370,"T":23.9},{"p":"b","t":410,"T":23.9},
{"p":"c","t":0,"T":23.8},{"p":"c","t":6,"T":23.7},{"p":"c","t":7,"T":23.8},{"p":"c","t":9,"T":23.7},{"p":"c","t":10,"T":23.8},{"p":"c","t":13,"T":23.7},{"p":"c","t":14,"T":23.8},
{"p":"c","t":15,"T":23.9},{"p":"c","t":16,"T":23.8},{"p":"c","t":17,"T":23.9},{"p":"c","t":18,"T":23.8},{"p":"c","t":19,"T":23.9},{"p":"c","t":20,"T":23.8},{"p":"c","t":21,"T":23.9},{"p":"c","t":22,"T":23.8},{"p":"c","t":23,"T":23.9},{"p":"c","t":24,"T":23.8},{"p":"c","t":25,"T":23.9},{"p":"c","t":26,"T":23.8},{"p":"c","t":27,"T":23.9},{"p":"c","t":28,"T":23.8},{"p":"c","t":29,"T":23.9},{"p":"c","t":30,"T":23.8},{"p":"c","t":31,"T":23.9},{"p":"c","t":32,"T":23.8},{"p":"c","t":33,"T":23.9},{"p":"c","t":34,"T":23.8},{"p":"c","t":35,"T":23.9},{"p":"c","t":36,"T":23.8},{"p":"c","t":37,"T":23.9},{"p":"c","t":38,"T":23.8},{"p":"c","t":39,"T":23.9},{"p":"c","t":40,"T":23.8},{"p":"c","t":41,"T":23.9},{"p":"c","t":42,"T":23.8},{"p":"c","t":43,"T":23.9},{"p":"c","t":44,"T":23.8},{"p":"c","t":45,"T":23.9},{"p":"c","t":46,"T":23.8},{"p":"c","t":47,"T":23.9},{"p":"c","t":48,"T":23.8},{"p":"c","t":49,"T":23.9},{"p":"c","t":50,"T":23.8},{"p":"c","t":51,"T":23.9},{"p":"c","t":52,"T":23.8},{"p":"c","t":53,"T":23.9},{"p":"c","t":54,"T":23.8},
{"p":"c","t":58,"T":23.7},{"p":"c","t":59,"T":23.8},{"p":"c","t":63,"T":23.7},{"p":"c","t":64,"T":23.8},{"p":"c","t":71,"T":23.9},{"p":"c","t":72,"T":23.8},{"p":"c","t":73,"T":23.9},{"p":"c","t":74,"T":23.8},{"p":"c","t":75,"T":23.9},{"p":"c","t":88,"T":23.8},{"p":"c","t":89,"T":23.9},{"p":"c","t":90,"T":23.8},{"p":"c","t":91,"T":23.9},{"p":"c","t":92,"T":23.8},{"p":"c","t":93,"T":23.9},{"p":"c","t":115,"T":23.8},{"p":"c","t":116,"T":23.9},
{"p":"c","t":121,"T":23.8},{"p":"c","t":122,"T":23.9},{"p":"c","t":123,"T":23.8},{"p":"c","t":124,"T":23.9},{"p":"c","t":125,"T":23.8},{"p":"c","t":126,"T":23.9},{"p":"c","t":127,"T":23.8},{"p":"c","t":128,"T":23.9},{"p":"c","t":129,"T":23.8},{"p":"c","t":130,"T":23.9},{"p":"c","t":131,"T":23.8},{"p":"c","t":132,"T":23.9},{"p":"c","t":133,"T":23.8},{"p":"c","t":134,"T":23.9},{"p":"c","t":135,"T":23.8},{"p":"c","t":136,"T":23.9},{"p":"c","t":137,"T":23.8},{"p":"c","t":138,"T":23.9},{"p":"c","t":139,"T":23.8},{"p":"c","t":140,"T":23.9},{"p":"c","t":141,"T":23.8},{"p":"c","t":142,"T":23.9},{"p":"c","t":143,"T":23.8},{"p":"c","t":144,"T":23.9},{"p":"c","t":145,"T":23.8},{"p":"c","t":146,"T":23.9},{"p":"c","t":147,"T":23.8},{"p":"c","t":148,"T":23.9},{"p":"c","t":149,"T":23.8},{"p":"c","t":150,"T":23.9},{"p":"c","t":151,"T":23.8},{"p":"c","t":152,"T":23.9},{"p":"c","t":153,"T":23.8},{"p":"c","t":154,"T":23.9},{"p":"c","t":155,"T":23.8},{"p":"c","t":156,"T":23.9},{"p":"c","t":157,"T":23.8},{"p":"c","t":158,"T":23.9},{"p":"c","t":159,"T":23.8},{"p":"c","t":160,"T":23.9},{"p":"c","t":161,"T":23.8},{"p":"c","t":162,"T":23.9},{"p":"c","t":163,"T":23.8},{"p":"c","t":164,"T":23.9},
{"p":"c","t":169,"T":23.8},{"p":"c","t":170,"T":23.9},{"p":"c","t":171,"T":23.8},{"p":"c","t":172,"T":23.9},{"p":"c","t":173,"T":23.8},{"p":"c","t":174,"T":23.9},{"p":"c","t":175,"T":23.8},{"p":"c","t":176,"T":23.9},{"p":"c","t":177,"T":23.8},{"p":"c","t":178,"T":23.9},{"p":"c","t":179,"T":23.8},{"p":"c","t":180,"T":23.9},{"p":"c","t":181,"T":23.8},{"p":"c","t":182,"T":23.9},{"p":"c","t":183,"T":23.8},{"p":"c","t":184,"T":23.9},{"p":"c","t":185,"T":23.8},{"p":"c","t":186,"T":23.9},{"p":"c","t":187,"T":23.8},{"p":"c","t":188,"T":23.9},{"p":"c","t":189,"T":23.8},{"p":"c","t":190,"T":23.9},{"p":"c","t":191,"T":23.8},{"p":"c","t":192,"T":23.9},{"p":"c","t":193,"T":23.8},{"p":"c","t":194,"T":23.9},{"p":"c","t":195,"T":23.8},{"p":"c","t":196,"T":23.9},
{"p":"c","t":211,"T":23.8},{"p":"c","t":234,"T":23.7},{"p":"c","t":236,"T":23.8},{"p":"c","t":237,"T":23.9},{"p":"c","t":260,"T":23.8},{"p":"c","t":261,"T":23.9},{"p":"c","t":262,"T":23.8},{"p":"c","t":275,"T":23.9},{"p":"c","t":276,"T":23.8},{"p":"c","t":277,"T":23.9},{"p":"c","t":278,"T":23.8},{"p":"c","t":279,"T":23.9},{"p":"c","t":280,"T":23.8},{"p":"c","t":281,"T":23.9},{"p":"c","t":282,"T":23.8},{"p":"c","t":283,"T":23.9},{"p":"c","t":304,"T":23.8},{"p":"c","t":305,"T":23.9},{"p":"c","t":306,"T":23.8},{"p":"c","t":307,"T":23.9},{"p":"c","t":308,"T":23.8},{"p":"c","t":309,"T":23.9},{"p":"c","t":310,"T":23.8},{"p":"c","t":311,"T":23.9},{"p":"c","t":312,"T":23.8},{"p":"c","t":313,"T":23.9},{"p":"c","t":337,"T":23.8},{"p":"c","t":338,"T":23.9},{"p":"c","t":353,"T":23.9},
{"p":"d","t":0,"T":23.9},{"p":"d","t":1,"T":23.8},{"p":"d","t":2,"T":23.9},{"p":"d","t":3,"T":23.8},{"p":"d","t":4,"T":23.9},{"p":"d","t":5,"T":23.8},{"p":"d","t":6,"T":23.9},{"p":"d","t":7,"T":23.8},{"p":"d","t":8,"T":23.9},{"p":"d","t":9,"T":23.8},{"p":"d","t":10,"T":23.9},{"p":"d","t":11,"T":23.8},{"p":"d","t":12,"T":23.9},{"p":"d","t":13,"T":23.8},{"p":"d","t":14,"T":23.9},{"p":"d","t":15,"T":23.8},{"p":"d","t":16,"T":23.9},{"p":"d","t":17,"T":23.8},{"p":"d","t":18,"T":23.9},{"p":"d","t":19,"T":23.8},{"p":"d","t":20,"T":23.9},{"p":"d","t":21,"T":23.8},
{"p":"d","t":23,"T":23.7},{"p":"d","t":24,"T":23.8},{"p":"d","t":28,"T":23.7},{"p":"d","t":29,"T":23.8},{"p":"d","t":35,"T":23.9},{"p":"d","t":36,"T":23.8},{"p":"d","t":37,"T":23.9},{"p":"d","t":38,"T":23.8},{"p":"d","t":40,"T":23.9},{"p":"d","t":41,"T":23.8},{"p":"d","t":53,"T":23.9},{"p":"d","t":54,"T":23.8},{"p":"d","t":55,"T":23.9},{"p":"d","t":56,"T":23.8},{"p":"d","t":57,"T":23.9},{"p":"d","t":58,"T":23.8},{"p":"d","t":59,"T":23.9},{"p":"d","t":60,"T":23.8},{"p":"d","t":80,"T":23.9},{"p":"d","t":81,"T":23.8},
{"p":"d","t":87,"T":23.9},{"p":"d","t":88,"T":23.8},{"p":"d","t":89,"T":23.9},{"p":"d","t":90,"T":23.8},{"p":"d","t":91,"T":23.9},{"p":"d","t":92,"T":23.8},{"p":"d","t":93,"T":23.9},{"p":"d","t":94,"T":23.8},{"p":"d","t":95,"T":23.9},{"p":"d","t":96,"T":23.8},{"p":"d","t":97,"T":23.9},{"p":"d","t":98,"T":23.8},{"p":"d","t":99,"T":23.9},{"p":"d","t":100,"T":23.8},{"p":"d","t":101,"T":23.9},{"p":"d","t":102,"T":23.8},{"p":"d","t":103,"T":23.9},{"p":"d","t":104,"T":23.8},{"p":"d","t":105,"T":23.9},{"p":"d","t":106,"T":23.8},{"p":"d","t":107,"T":23.9},{"p":"d","t":108,"T":23.8},{"p":"d","t":109,"T":23.9},{"p":"d","t":110,"T":23.8},{"p":"d","t":111,"T":23.9},{"p":"d","t":112,"T":23.8},{"p":"d","t":113,"T":23.9},{"p":"d","t":114,"T":23.8},{"p":"d","t":115,"T":23.9},{"p":"d","t":116,"T":23.8},{"p":"d","t":117,"T":23.9},{"p":"d","t":118,"T":23.8},{"p":"d","t":119,"T":23.9},{"p":"d","t":120,"T":23.8},{"p":"d","t":121,"T":23.9},{"p":"d","t":122,"T":23.8},{"p":"d","t":123,"T":23.9},{"p":"d","t":124,"T":23.8},{"p":"d","t":125,"T":23.9},{"p":"d","t":126,"T":23.8},{"p":"d","t":127,"T":23.9},{"p":"d","t":128,"T":23.8},{"p":"d","t":129,"T":23.9},{"p":"d","t":130,"T":23.8},{"p":"d","t":131,"T":23.9},{"p":"d","t":132,"T":23.8},{"p":"d","t":133,"T":23.9},{"p":"d","t":134,"T":23.8},{"p":"d","t":135,"T":23.9},{"p":"d","t":136,"T":23.8},{"p":"d","t":137,"T":23.9},{"p":"d","t":138,"T":23.8},{"p":"d","t":139,"T":23.9},{"p":"d","t":140,"T":23.8},{"p":"d","t":141,"T":23.9},{"p":"d","t":142,"T":23.8},{"p":"d","t":143,"T":23.9},{"p":"d","t":144,"T":23.8},{"p":"d","t":145,"T":23.9},{"p":"d","t":146,"T":23.8},{"p":"d","t":147,"T":23.9},{"p":"d","t":148,"T":23.8},{"p":"d","t":149,"T":23.9},{"p":"d","t":150,"T":23.8},{"p":"d","t":151,"T":23.9},{"p":"d","t":152,"T":23.8},{"p":"d","t":153,"T":23.9},{"p":"d","t":154,"T":23.8},{"p":"d","t":155,"T":23.9},{"p":"d","t":156,"T":23.8},{"p":"d","t":157,"T":23.9},{"p":"d","t":158,"T":23.8},{"p":"d","t":159,"T":23.9},
{"p":"d","t":177,"T":23.8},{"p":"d","t":199,"T":23.7},{"p":"d","t":200,"T":23.8},{"p":"d","t":201,"T":23.65},{"p":"d","t":202,"T":23.8},{"p":"d","t":203,"T":23.9},{"p":"d","t":224,"T":23.8},{"p":"d","t":241,"T":23.9},{"p":"d","t":242,"T":23.8},{"p":"d","t":243,"T":23.9},{"p":"d","t":244,"T":23.8},{"p":"d","t":245,"T":23.9},{"p":"d","t":246,"T":23.8},{"p":"d","t":247,"T":23.9},{"p":"d","t":248,"T":23.8},{"p":"d","t":270,"T":23.9},{"p":"d","t":271,"T":23.8},{"p":"d","t":272,"T":23.9},{"p":"d","t":273,"T":23.8},{"p":"d","t":274,"T":23.9},{"p":"d","t":275,"T":23.8},{"p":"d","t":276,"T":23.9},{"p":"d","t":277,"T":23.8},{"p":"d","t":278,"T":23.9},{"p":"d","t":279,"T":23.8},{"p":"d","t":280,"T":23.9},{"p":"d","t":302,"T":23.8},{"p":"d","t":302.5,"T":23.9},{"p":"d","t":318,"T":23.9}
]
},
"concat": [
{
"width": 467, "height": 291,
"title": {"text": "(a)  ASR-1", "anchor": "start", "frame": "group", "dx": 19, "offset": -20, "baseline": "alphabetic", "font": "Liberation Sans", "fontSize": 26, "fontWeight": "normal", "color": "black"},
"layer": [
{"layer": [
{"data": {"name": "curves"}, "transform": [{"filter": "datum.p == 'a'"}],
 "mark": {"type": "line", "color": "black", "strokeWidth": 1.3},
 "encoding": {
  "x": {"field": "t", "type": "quantitative", "scale": {"domain": [0, 600], "nice": false},
        "axis": {"values": [0,20,40,60,80,100,120,140,160,180,200,220,240,260,280,300,320,340,360,380,400,420,440,460,480,500,520,540,560,580,600], "tickCount": 200, "format": "d", "labelOverlap": false, "labelExpr": "datum.value % 100 == 0 ? datum.label : ''", "tickSize": {"condition": {"test": "datum.value % 100 == 0", "value": -12}, "value": -6}, "labelPadding": 21, "title": "Elapsed time (hour)", "titleFontSize": 21, "titleY": 50, "titleBaseline": "alphabetic"}},
  "y": {"field": "v", "type": "quantitative", "scale": {"domain": [0, 1000], "nice": false},
        "axis": {"orient": "left", "values": [0,50,100,150,200,250,300,350,400,450,500,550,600,650,700,750,800,850,900,950,1000], "tickCount": 200, "format": "d", "labelOverlap": false, "labelExpr": "datum.value % 200 == 0 ? datum.label : ''", "tickSize": {"condition": {"test": "datum.value % 200 == 0", "value": -12}, "value": -6}, "labelPadding": 19, "title": "Anelastic strain (10⁻⁶)", "titleFontSize": 18.5, "titleX": -51, "titleBaseline": "alphabetic", "titleAngle": 270}},
  "detail": {"field": "s", "type": "nominal"}
 }},
{"data": {"name": "labels"}, "transform": [{"filter": "datum.p == 'a'"}],
 "mark": {"type": "text", "align": "left", "baseline": "middle", "font": "Liberation Serif", "fontSize": 20, "color": "black"},
 "encoding": {"x": {"field": "t", "type": "quantitative", "scale": {"domain": [0, 600], "nice": false}}, "y": {"field": "v", "type": "quantitative", "scale": {"domain": [0, 1000], "nice": false}}, "text": {"field": "s", "type": "nominal"}}}
]},
{"layer": [
{"data": {"name": "temp"}, "transform": [{"filter": "datum.p == 'a'"}],
 "mark": {"type": "line", "interpolate": "step-after", "color": "#D8352C", "strokeWidth": 1},
 "encoding": {
  "x": {"field": "t", "type": "quantitative", "scale": {"domain": [0, 600], "nice": false}},
  "y": {"field": "T", "type": "quantitative", "scale": {"domain": [20, 25], "nice": false, "zero": false},
        "axis": {"orient": "right", "values": [20,21,22,23,24,25], "tickCount": 200, "format": "d", "labelOverlap": false, "tickSize": -11, "labelPadding": 15, "grid": true, "gridDash": [3,3], "gridColor": "#2D469E", "gridWidth": 1.2, "gridOpacity": {"condition": {"test": "datum.value == 20 || datum.value == 25", "value": 0}, "value": 1}, "title": null}}
 }},
{"data": {"name": "templabel"}, "transform": [{"filter": "datum.p == 'a'"}],
 "mark": {"type": "text", "text": "Temperature", "font": "Liberation Serif", "fontSize": 19, "color": "#D8352C", "align": "center", "baseline": "middle"},
 "encoding": {"x": {"field": "t", "type": "quantitative", "scale": {"domain": [0, 600], "nice": false}}, "y": {"field": "T", "type": "quantitative", "scale": {"domain": [20, 25], "nice": false, "zero": false}}}}
]}
],
"resolve": {"scale": {"y": "independent"}}
},
{
"width": 466, "height": 291,
"title": {"text": "(b)  ASR-2", "anchor": "start", "frame": "group", "dx": 26, "offset": -20, "baseline": "alphabetic", "font": "Liberation Sans", "fontSize": 26, "fontWeight": "normal", "color": "black"},
"layer": [
{"layer": [
{"data": {"name": "curves"}, "transform": [{"filter": "datum.p == 'b'"}],
 "mark": {"type": "line", "color": "black", "strokeWidth": 1.3},
 "encoding": {
  "x": {"field": "t", "type": "quantitative", "scale": {"domain": [0, 500], "nice": false},
        "axis": {"values": [0,20,40,60,80,100,120,140,160,180,200,220,240,260,280,300,320,340,360,380,400,420,440,460,480,500], "tickCount": 200, "format": "d", "labelOverlap": false, "labelExpr": "datum.value % 100 == 0 ? datum.label : ''", "tickSize": {"condition": {"test": "datum.value % 100 == 0", "value": -12}, "value": -6}, "labelPadding": 21, "title": "Elapsed time (hour)", "titleFontSize": 21, "titleY": 50, "titleBaseline": "alphabetic"}},
  "y": {"field": "v", "type": "quantitative", "scale": {"domain": [0, 350], "nice": false},
        "axis": {"orient": "left", "values": [0,17.5,35,52.5,70,87.5,105,122.5,140,157.5,175,192.5,210,227.5,245,262.5,280,297.5,315,332.5,350], "tickCount": 200, "format": "d", "labelOverlap": false, "labelExpr": "datum.value % 70 == 0 ? datum.label : ''", "tickSize": {"condition": {"test": "datum.value % 70 == 0", "value": -12}, "value": -6}, "labelPadding": 19, "title": null}},
  "detail": {"field": "s", "type": "nominal"}
 }},
{"data": {"name": "labels"}, "transform": [{"filter": "datum.p == 'b'"}],
 "mark": {"type": "text", "align": "left", "baseline": "middle", "font": "Liberation Serif", "fontSize": 20, "color": "black"},
 "encoding": {"x": {"field": "t", "type": "quantitative", "scale": {"domain": [0, 500], "nice": false}}, "y": {"field": "v", "type": "quantitative", "scale": {"domain": [0, 350], "nice": false}}, "text": {"field": "s", "type": "nominal"}}}
]},
{"layer": [
{"data": {"name": "temp"}, "transform": [{"filter": "datum.p == 'b'"}],
 "mark": {"type": "line", "interpolate": "step-after", "color": "#D8352C", "strokeWidth": 1},
 "encoding": {
  "x": {"field": "t", "type": "quantitative", "scale": {"domain": [0, 500], "nice": false}},
  "y": {"field": "T", "type": "quantitative", "scale": {"domain": [20, 25], "nice": false, "zero": false},
        "axis": {"orient": "right", "values": [20,21,22,23,24,25], "tickCount": 200, "format": "d", "labelOverlap": false, "tickSize": -11, "labelPadding": 15, "grid": true, "gridDash": [3,3], "gridColor": "#2D469E", "gridWidth": 1.2, "gridOpacity": {"condition": {"test": "datum.value == 20 || datum.value == 25", "value": 0}, "value": 1}, "title": "Temperature (°C)", "titleX": 49, "titleAngle": 270, "titleBaseline": "alphabetic"}}
 }},
{"data": {"name": "templabel"}, "transform": [{"filter": "datum.p == 'b'"}],
 "mark": {"type": "text", "text": "Temperature", "font": "Liberation Serif", "fontSize": 19, "color": "#D8352C", "align": "center", "baseline": "middle"},
 "encoding": {"x": {"field": "t", "type": "quantitative", "scale": {"domain": [0, 500], "nice": false}}, "y": {"field": "T", "type": "quantitative", "scale": {"domain": [20, 25], "nice": false, "zero": false}}}}
]}
],
"resolve": {"scale": {"y": "independent"}}
},
{
"width": 467, "height": 291,
"title": {"text": "(c)  ASR-3", "anchor": "start", "frame": "group", "dx": 20, "offset": -20, "baseline": "alphabetic", "font": "Liberation Sans", "fontSize": 26, "fontWeight": "normal", "color": "black"},
"layer": [
{"layer": [
{"data": {"name": "curves"}, "transform": [{"filter": "datum.p == 'c'"}],
 "mark": {"type": "line", "color": "black", "strokeWidth": 1.3},
 "encoding": {
  "x": {"field": "t", "type": "quantitative", "scale": {"domain": [0, 400], "nice": false},
        "axis": {"values": [0,10,20,30,40,50,60,70,80,90,100,110,120,130,140,150,160,170,180,190,200,210,220,230,240,250,260,270,280,290,300,310,320,330,340,350,360,370,380,390,400], "tickCount": 200, "format": "d", "labelOverlap": false, "labelExpr": "datum.value % 50 == 0 ? datum.label : ''", "tickSize": {"condition": {"test": "datum.value % 50 == 0", "value": -12}, "value": -6}, "labelPadding": 21, "title": "Elapsed time (hour)", "titleFontSize": 21, "titleY": 50, "titleBaseline": "alphabetic"}},
  "y": {"field": "v", "type": "quantitative", "scale": {"domain": [0, 350], "nice": false},
        "axis": {"orient": "left", "values": [0,17.5,35,52.5,70,87.5,105,122.5,140,157.5,175,192.5,210,227.5,245,262.5,280,297.5,315,332.5,350], "tickCount": 200, "format": "d", "labelOverlap": false, "labelExpr": "datum.value % 70 == 0 ? datum.label : ''", "tickSize": {"condition": {"test": "datum.value % 70 == 0", "value": -12}, "value": -6}, "labelPadding": 19, "title": "Anelastic strain (10⁻⁶)", "titleFontSize": 18.5, "titleX": -51, "titleBaseline": "alphabetic", "titleAngle": 270}},
  "detail": {"field": "s", "type": "nominal"}
 }},
{"data": {"name": "labels"}, "transform": [{"filter": "datum.p == 'c'"}],
 "mark": {"type": "text", "align": "left", "baseline": "middle", "font": "Liberation Serif", "fontSize": 20, "color": "black"},
 "encoding": {"x": {"field": "t", "type": "quantitative", "scale": {"domain": [0, 400], "nice": false}}, "y": {"field": "v", "type": "quantitative", "scale": {"domain": [0, 350], "nice": false}}, "text": {"field": "s", "type": "nominal"}}}
]},
{"layer": [
{"data": {"name": "temp"}, "transform": [{"filter": "datum.p == 'c'"}],
 "mark": {"type": "line", "interpolate": "step-after", "color": "#D8352C", "strokeWidth": 1},
 "encoding": {
  "x": {"field": "t", "type": "quantitative", "scale": {"domain": [0, 400], "nice": false}},
  "y": {"field": "T", "type": "quantitative", "scale": {"domain": [20, 25], "nice": false, "zero": false},
        "axis": {"orient": "right", "values": [20,21,22,23,24,25], "tickCount": 200, "format": "d", "labelOverlap": false, "tickSize": -11, "labelPadding": 15, "grid": true, "gridDash": [3,3], "gridColor": "#2D469E", "gridWidth": 1.2, "gridOpacity": {"condition": {"test": "datum.value == 20 || datum.value == 25", "value": 0}, "value": 1}, "title": null}}
 }},
{"data": {"name": "templabel"}, "transform": [{"filter": "datum.p == 'c'"}],
 "mark": {"type": "text", "text": "Temperature", "font": "Liberation Serif", "fontSize": 19, "color": "#D8352C", "align": "center", "baseline": "middle"},
 "encoding": {"x": {"field": "t", "type": "quantitative", "scale": {"domain": [0, 400], "nice": false}}, "y": {"field": "T", "type": "quantitative", "scale": {"domain": [20, 25], "nice": false, "zero": false}}}}
]}
],
"resolve": {"scale": {"y": "independent"}}
},
{
"width": 466, "height": 291,
"title": {"text": "(d)  ASR-4", "anchor": "start", "frame": "group", "dx": 24, "offset": -20, "baseline": "alphabetic", "font": "Liberation Sans", "fontSize": 26, "fontWeight": "normal", "color": "black"},
"layer": [
{"layer": [
{"data": {"name": "curves"}, "transform": [{"filter": "datum.p == 'd'"}],
 "mark": {"type": "line", "color": "black", "strokeWidth": 1.3},
 "encoding": {
  "x": {"field": "t", "type": "quantitative", "scale": {"domain": [0, 350], "nice": false},
        "axis": {"values": [0,10,20,30,40,50,60,70,80,90,100,110,120,130,140,150,160,170,180,190,200,210,220,230,240,250,260,270,280,290,300,310,320,330,340,350], "tickCount": 200, "format": "d", "labelOverlap": false, "labelExpr": "datum.value % 50 == 0 ? datum.label : ''", "tickSize": {"condition": {"test": "datum.value % 50 == 0", "value": -12}, "value": -6}, "labelPadding": 21, "title": "Elapsed time (hour)", "titleFontSize": 21, "titleY": 50, "titleBaseline": "alphabetic"}},
  "y": {"field": "v", "type": "quantitative", "scale": {"domain": [0, 500], "nice": false},
        "axis": {"orient": "left", "values": [0,20,40,60,80,100,120,140,160,180,200,220,240,260,280,300,320,340,360,380,400,420,440,460,480,500], "tickCount": 200, "format": "d", "labelOverlap": false, "labelExpr": "datum.value % 100 == 0 ? datum.label : ''", "tickSize": {"condition": {"test": "datum.value % 100 == 0", "value": -12}, "value": -6}, "labelPadding": 19, "title": null}},
  "detail": {"field": "s", "type": "nominal"}
 }},
{"data": {"name": "labels"}, "transform": [{"filter": "datum.p == 'd'"}],
 "mark": {"type": "text", "align": "left", "baseline": "middle", "font": "Liberation Serif", "fontSize": 20, "color": "black"},
 "encoding": {"x": {"field": "t", "type": "quantitative", "scale": {"domain": [0, 350], "nice": false}}, "y": {"field": "v", "type": "quantitative", "scale": {"domain": [0, 500], "nice": false}}, "text": {"field": "s", "type": "nominal"}}}
]},
{"layer": [
{"data": {"name": "temp"}, "transform": [{"filter": "datum.p == 'd'"}],
 "mark": {"type": "line", "interpolate": "step-after", "color": "#D8352C", "strokeWidth": 1},
 "encoding": {
  "x": {"field": "t", "type": "quantitative", "scale": {"domain": [0, 350], "nice": false}},
  "y": {"field": "T", "type": "quantitative", "scale": {"domain": [20, 25], "nice": false, "zero": false},
        "axis": {"orient": "right", "values": [20,21,22,23,24,25], "tickCount": 200, "format": "d", "labelOverlap": false, "tickSize": -11, "labelPadding": 15, "grid": true, "gridDash": [3,3], "gridColor": "#2D469E", "gridWidth": 1.2, "gridOpacity": {"condition": {"test": "datum.value == 20 || datum.value == 25", "value": 0}, "value": 1}, "title": "Temperature (°C)", "titleX": 49, "titleAngle": 270, "titleBaseline": "alphabetic"}}
 }},
{"data": {"name": "templabel"}, "transform": [{"filter": "datum.p == 'd'"}],
 "mark": {"type": "text", "text": "Temperature", "font": "Liberation Serif", "fontSize": 19, "color": "#D8352C", "align": "center", "baseline": "middle"},
 "encoding": {"x": {"field": "t", "type": "quantitative", "scale": {"domain": [0, 350], "nice": false}}, "y": {"field": "T", "type": "quantitative", "scale": {"domain": [20, 25], "nice": false, "zero": false}}}}
]}
],
"resolve": {"scale": {"y": "independent"}}
}
]
}
